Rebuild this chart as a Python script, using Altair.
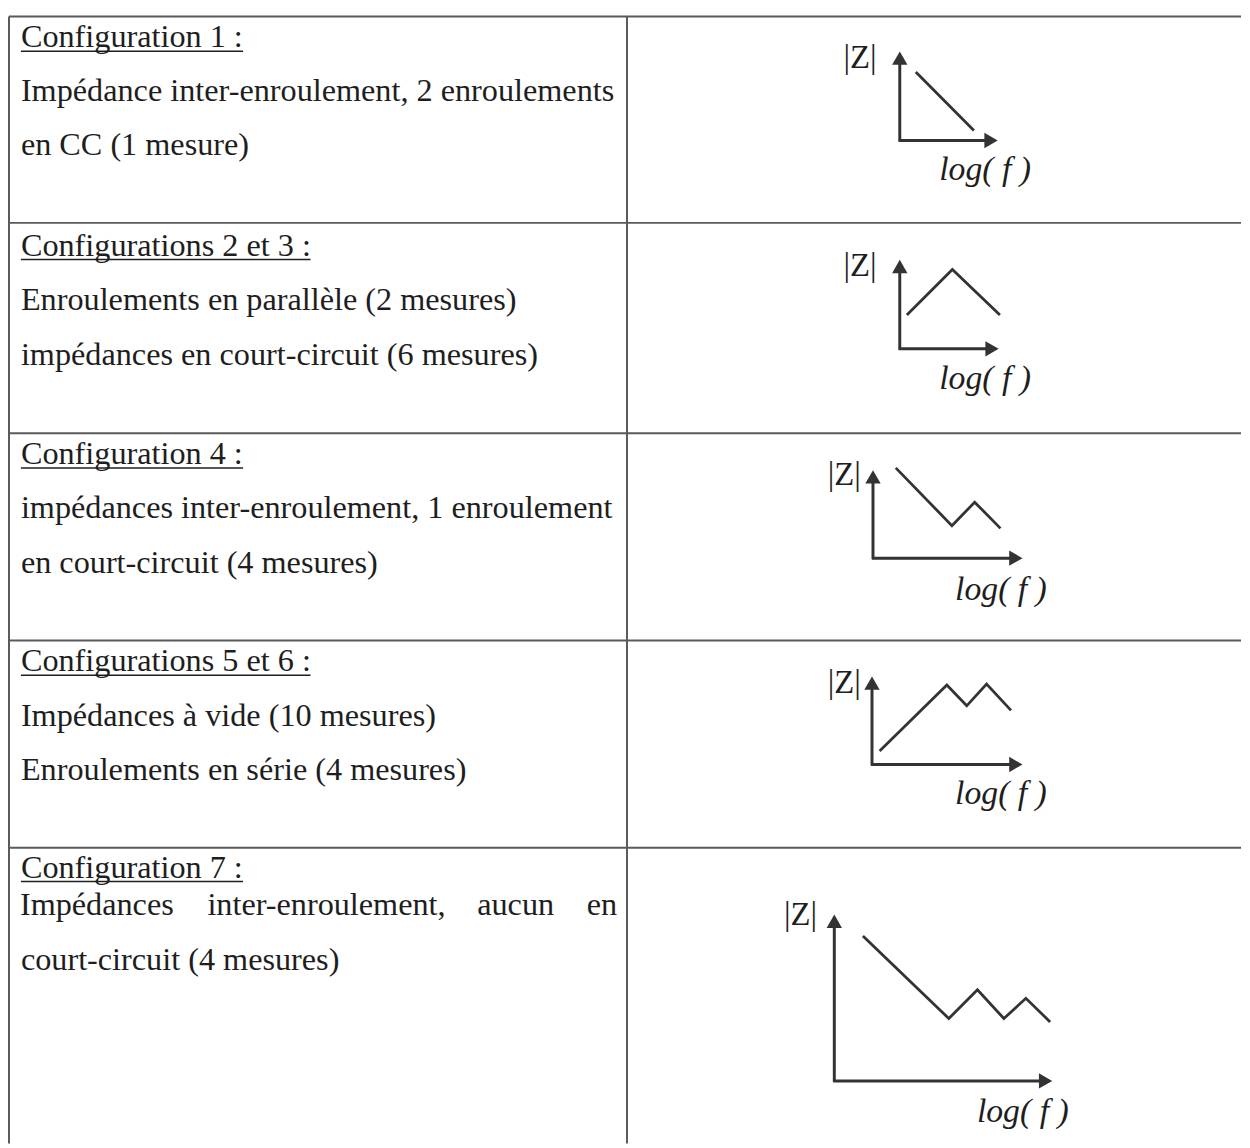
import altair as alt
import pandas as pd

# ---------------- data ----------------
headings = [
    "Configuration 1 :",
    "Configurations 2 et 3 :",
    "Configuration 4 :",
    "Configurations 5 et 6 :",
    "Configuration 7 :",
]
line1 = [
    "Impédance inter-enroulement, 2 enroulements",
    "Enroulements en parallèle (2 mesures)",
    "impédances inter-enroulement, 1 enroulement",
    "Impédances à vide (10 mesures)",
    None,  # justified line, drawn word by word
]
line2 = [
    "en CC (1 mesure)",
    "impédances en court-circuit (6 mesures)",
    "en court-circuit (4 mesures)",
    "Enroulements en série (4 mesures)",
    "court-circuit (4 mesures)",
]
justified_words = ["Impédances", "inter-enroulement,", "aucun", "en"]

# sketch curves: |Z| (v) against log(f) (u), relative to each sketch's axes
curve_u = [
    [0.16, 0.74],
    [0.07, 0.52, 0.99],
    [0.15, 0.52, 0.67, 0.84],
    [0.05, 0.49, 0.62, 0.75, 0.91],
    [0.13, 0.52, 0.65, 0.77, 0.87, 0.98],
]
curve_v = [
    [0.75, 0.11],
    [0.37, 0.87, 0.37],
    [1.00, 0.36, 0.62, 0.33],
    [0.15, 0.88, 0.65, 0.89, 0.60],
    [0.86, 0.37, 0.54, 0.37, 0.49, 0.35],
]
y_label = "|Z|"
x_label = "log( f )"

# ---------------- layout (pixels) ----------------
W, H = 1234, 1132
row_tops = [12, 220, 432, 641, 850]
left_x, mid_x, right_x, bottom_y = 8, 631, 1250, 1148
text_x = 20
head_dy = [21, 23, 21, 21, 20]
l1_dy = [75, 78, 76, 76, 58]
l2_dy = [130, 133, 131, 131, 113]
underline_end = [244, 312, 244, 312, 244]
just_x = [19, 208, 480, 621]
# sketch boxes: origin x, origin y, x-axis length, y-axis length
sk_x0 = [906, 906, 879, 878, 840]
sk_y0 = [137, 347, 558, 766, 1085]
sk_lx = [101, 102, 153, 154, 222]
sk_ly = [92, 92, 91, 91, 170]
zlab_x = [866, 866, 850, 850, 806]
zlab_dy = [9, 9, 7, 9, 3]
flab_x = [992, 992, 1008, 1008, 1030]
flab_dy = [30, 30, 32, 30, 31]

INK = "#1e1e1e"
LINE = "#5a5a5a"
FONT = "Liberation Serif"
FS = 32.5

xs = alt.Scale(domain=[8, 8 + W], nice=False, zero=False)
ys = alt.Scale(domain=[8, 8 + H], reverse=True, nice=False, zero=False)

# ---------------- table grid ----------------
grid = []
for t in row_tops:
    grid.append(dict(x=left_x, y=t, x2=right_x, y2=t))
grid.append(dict(x=left_x, y=row_tops[0], x2=left_x, y2=bottom_y))
grid.append(dict(x=mid_x, y=row_tops[0], x2=mid_x, y2=bottom_y))
grid_layer = alt.Chart(pd.DataFrame(grid)).mark_rule(color=LINE, strokeWidth=2).encode(
    x=alt.X("x:Q", scale=xs, axis=None),
    y=alt.Y("y:Q", scale=ys, axis=None),
    x2="x2:Q", y2="y2:Q",
)

# ---------------- texts ----------------
texts = []
unders = []
for i in range(5):
    t = row_tops[i]
    texts.append(dict(x=text_x, y=t + head_dy[i], s=headings[i], a="left"))
    unders.append(dict(x=text_x, x2=underline_end[i], y=t + head_dy[i] + 14))
    if line1[i] is not None:
        texts.append(dict(x=text_x, y=t + l1_dy[i], s=line1[i], a="left"))
    else:
        for j, w in enumerate(justified_words):
            texts.append(dict(x=just_x[j], y=t + l1_dy[i], s=w,
                              a="right" if j == len(justified_words) - 1 else "left"))
    texts.append(dict(x=text_x, y=t + l2_dy[i], s=line2[i], a="left"))
text_df = pd.DataFrame(texts)

text_left = alt.Chart(text_df[text_df.a == "left"]).mark_text(
    font=FONT, fontSize=FS, color=INK, align="left", baseline="middle"
).encode(x=alt.X("x:Q", scale=xs, axis=None), y=alt.Y("y:Q", scale=ys, axis=None), text="s:N")
text_rt = alt.Chart(text_df[text_df.a == "right"]).mark_text(
    font=FONT, fontSize=FS, color=INK, align="right", baseline="middle"
).encode(x=alt.X("x:Q", scale=xs, axis=None), y=alt.Y("y:Q", scale=ys, axis=None), text="s:N")

under_layer = alt.Chart(pd.DataFrame(unders)).mark_rule(color=INK, strokeWidth=1.5).encode(
    x=alt.X("x:Q", scale=xs, axis=None), x2="x2:Q", y=alt.Y("y:Q", scale=ys, axis=None)
)

# ---------------- sketches ----------------
TIP = 9  # distance from arrow tip to arrow-head centre
axes_rows, curve_rows, heads, labels = [], [], [], []
for i in range(5):
    x0, y0, lx, ly = sk_x0[i], sk_y0[i], sk_lx[i], sk_ly[i]
    axes_rows += [
        dict(g=f"v{i}", o=0, x=x0, y=y0 + 1), dict(g=f"v{i}", o=1, x=x0, y=y0 - ly + TIP),
        dict(g=f"h{i}", o=0, x=x0 - 1, y=y0), dict(g=f"h{i}", o=1, x=x0 + lx - TIP, y=y0),
    ]
    for k, (u, v) in enumerate(zip(curve_u[i], curve_v[i])):
        curve_rows.append(dict(g=f"c{i}", o=k, x=x0 + u * lx, y=y0 - v * ly))
    heads.append(dict(x=x0, y=y0 - ly + TIP, sh="triangle-up"))
    heads.append(dict(x=x0 + lx - TIP, y=y0, sh="triangle-right"))
    labels.append(dict(x=zlab_x[i], y=y0 - ly + zlab_dy[i], s=y_label, it="normal"))
    labels.append(dict(x=flab_x[i], y=y0 + flab_dy[i], s=x_label, it="italic"))

axes_layer = alt.Chart(pd.DataFrame(axes_rows)).mark_line(color="#333333", strokeWidth=3).encode(
    x=alt.X("x:Q", scale=xs, axis=None), y=alt.Y("y:Q", scale=ys, axis=None),
    detail="g:N", order="o:Q",
)
curve_layer = alt.Chart(pd.DataFrame(curve_rows)).mark_line(color="#333333", strokeWidth=2.8).encode(
    x=alt.X("x:Q", scale=xs, axis=None), y=alt.Y("y:Q", scale=ys, axis=None),
    detail="g:N", order="o:Q",
)
head_layer = alt.Chart(pd.DataFrame(heads)).mark_point(
    filled=True, color="#333333", opacity=1, size=240, strokeWidth=0
).encode(
    x=alt.X("x:Q", scale=xs, axis=None), y=alt.Y("y:Q", scale=ys, axis=None),
    shape=alt.Shape("sh:N", scale=alt.Scale(domain=["triangle-up", "triangle-right"],
                                            range=["triangle-up", "triangle-right"]), legend=None),
)
ldf = pd.DataFrame(labels)
zlab_layer = alt.Chart(ldf[ldf.it == "normal"]).mark_text(
    font=FONT, fontSize=33, color=INK, align="center", baseline="middle"
).encode(x=alt.X("x:Q", scale=xs, axis=None), y=alt.Y("y:Q", scale=ys, axis=None), text="s:N")
flab_layer = alt.Chart(ldf[ldf.it == "italic"]).mark_text(
    font=FONT, fontSize=34, fontStyle="italic", color=INK, align="center", baseline="middle"
).encode(x=alt.X("x:Q", scale=xs, axis=None), y=alt.Y("y:Q", scale=ys, axis=None), text="s:N")

chart = alt.layer(
    grid_layer, under_layer, text_left, text_rt,
    axes_layer, curve_layer, head_layer, zlab_layer, flab_layer,
).properties(width=W, height=H, padding=0, background="white").configure_view(stroke=None)

chart.save("out.html", embed_options={"renderer": "svg", "actions": False})
